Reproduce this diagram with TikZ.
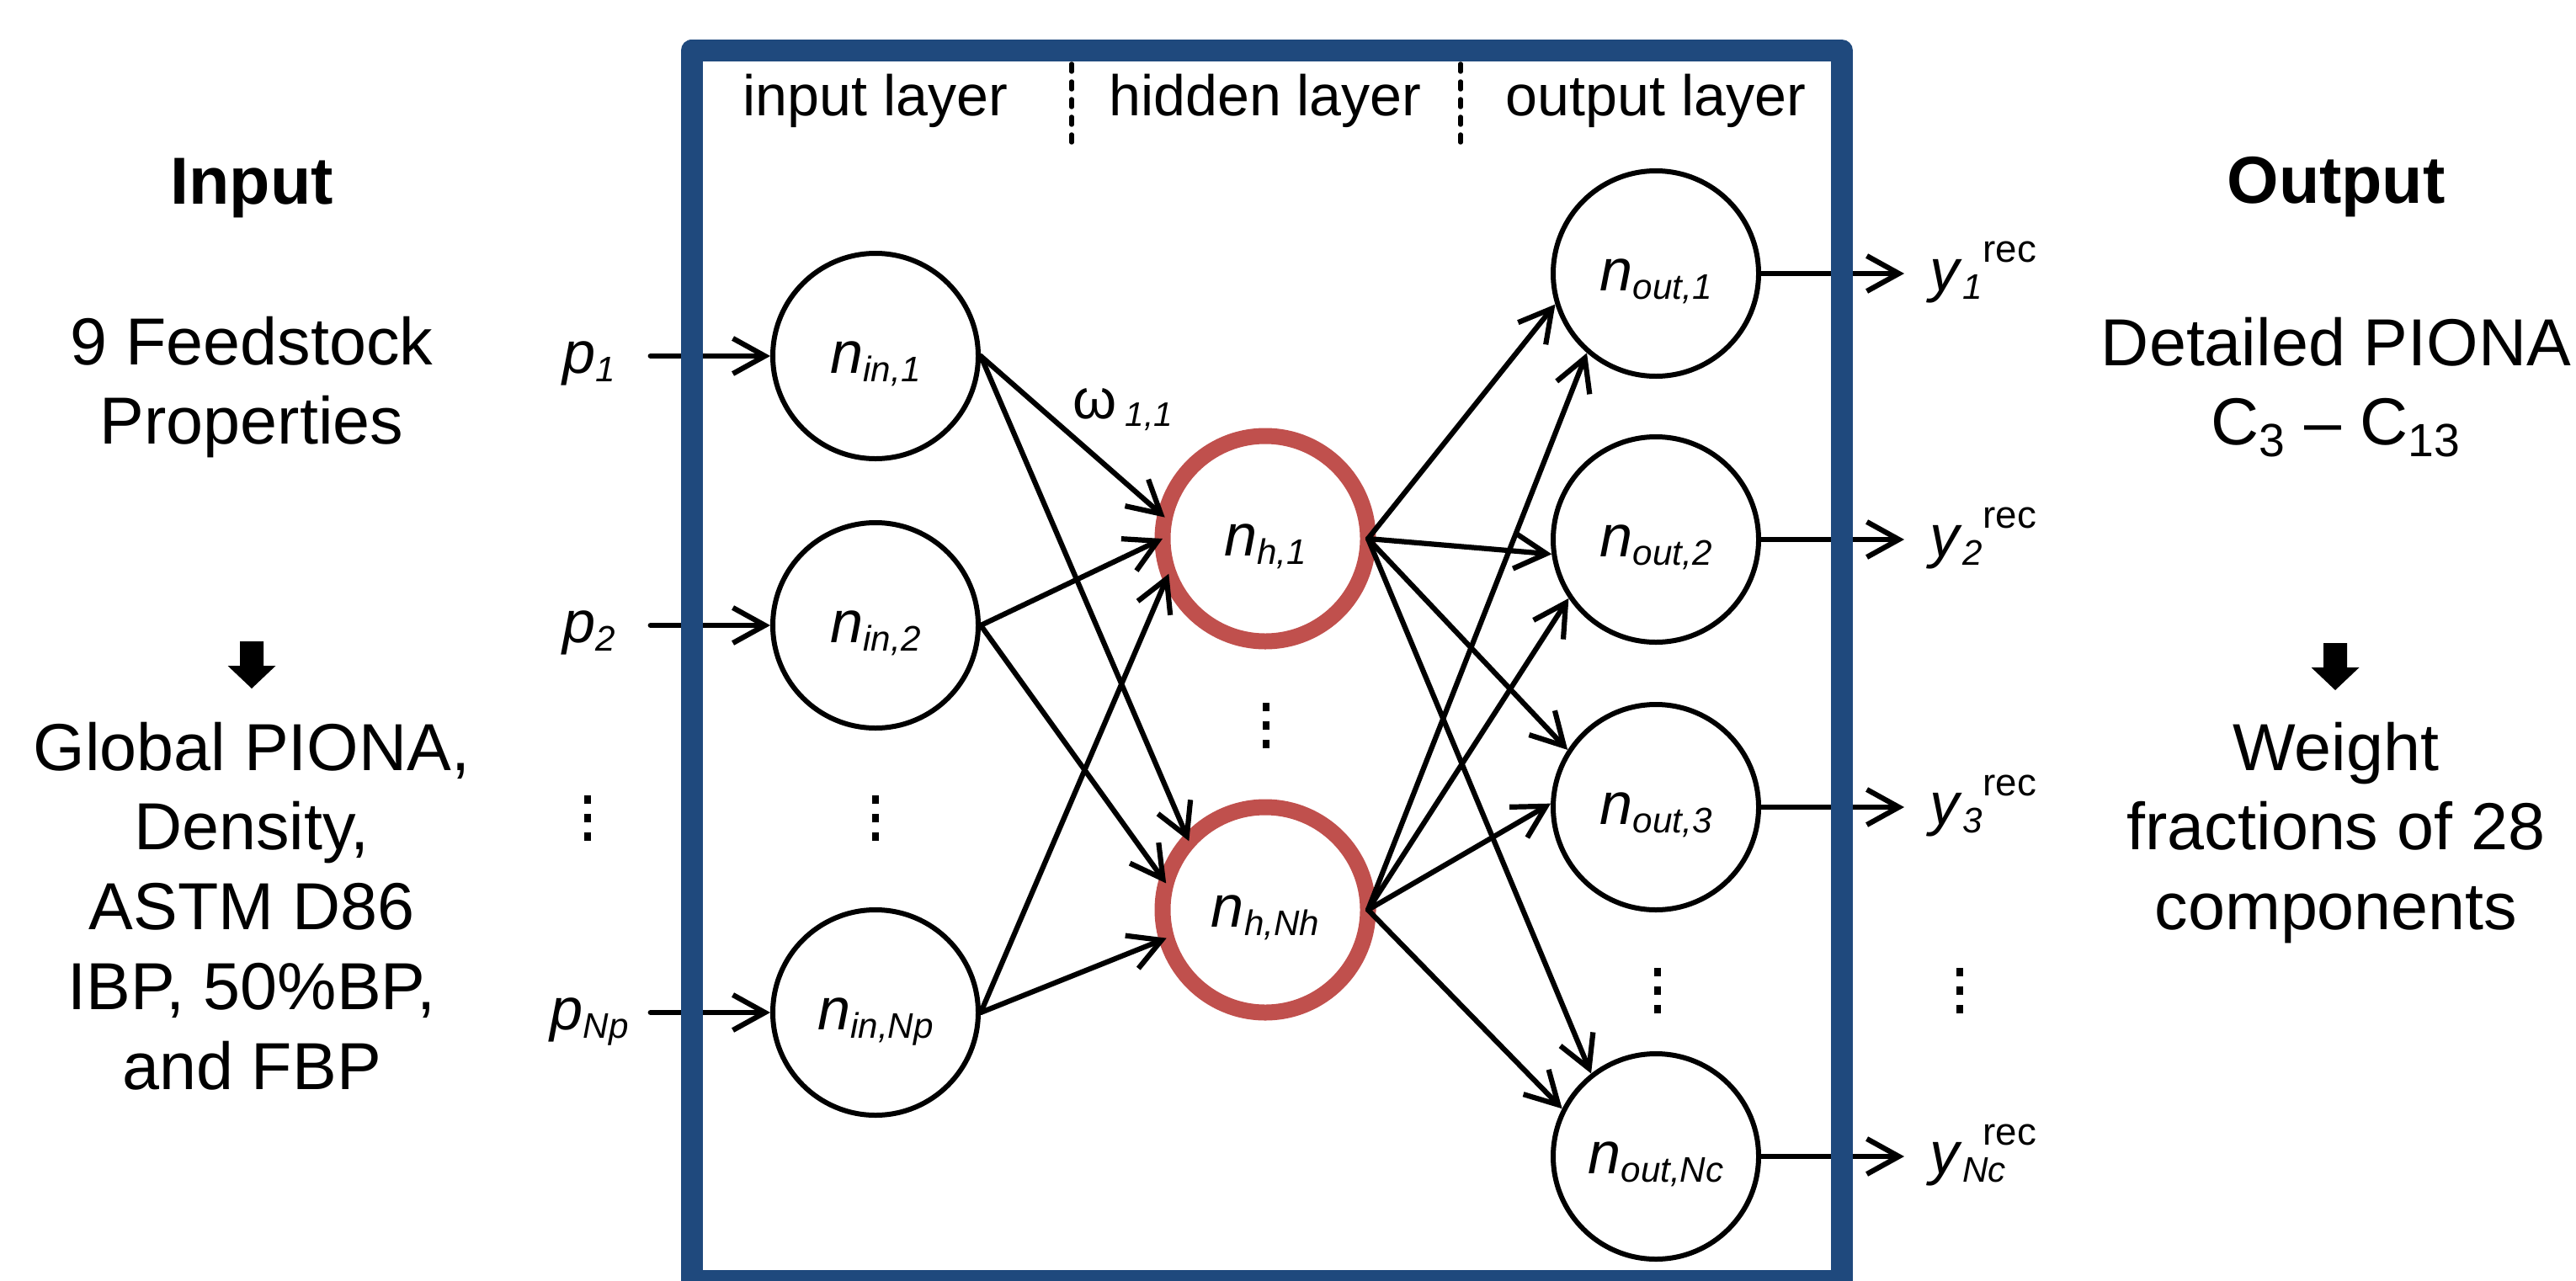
\documentclass[tikz,border=0pt]{standalone}
\usepackage{fontspec}
\setmainfont{Liberation Sans}
\usetikzlibrary{arrows.meta}

\definecolor{boxblue}{RGB}{31,73,125}
\definecolor{ringred}{RGB}{192,80,77}

\newcommand{\nsub}[2]{\textit{#1}\raisebox{-0.1cm}{\fontsize{12}{12}\selectfont\itshape #2}}
\newcommand{\yrec}[1]{\textit{y}\rlap{\raisebox{-0.1cm}{\fontsize{12}{12}\selectfont\itshape #1}}\hspace{0.24cm}\raisebox{0.34cm}{\fontsize{13}{13}\selectfont rec}}
\newcommand{\sqdots}{\vbox{\offinterlineskip\hbox{\rule{0.08cm}{0.1cm}}\kern0.12cm\hbox{\rule{0.08cm}{0.1cm}}\kern0.12cm\hbox{\rule{0.08cm}{0.1cm}}}}

\begin{document}
\begin{tikzpicture}[x=1cm,y=-1cm,
    neuron/.style={draw,circle,line width=0.06cm,minimum size=2.44cm,inner sep=0pt,
      text height=0.4cm,text depth=0cm,font=\fontsize{20}{24}\selectfont},
    hneuron/.style={neuron,draw=ringred,line width=0.19cm,outer sep=0pt},
    plab/.style={minimum width=1.44cm,inner sep=0pt,text height=0.4cm,text depth=0cm,
      font=\fontsize{20}{24}\selectfont},
    ylab/.style={anchor=west,inner xsep=0.3cm,inner ysep=0pt,text height=0.4cm,text depth=0cm,
      font=\fontsize{20}{24}\selectfont},
    hdr/.style={anchor=base,inner sep=0pt,font=\fontsize{19.4}{23}\selectfont},
    bigtxt/.style={inner sep=0pt,align=center,font=\fontsize{22.5}{27}\selectfont},
    dotsq/.style={inner sep=0pt},
    conn/.style={line width=0.062cm,line cap=round,-{Straight Barb[length=0.38cm,width=0.42cm]}},
    sepline/.style={line width=0.055cm,line cap=round,dash pattern=on 0.09cm off 0.12cm}]

  \useasboundingbox (0,0) rectangle (30.60,15.21);

  % Specification of nodes (position, etc.)
  \node[neuron] (in1) at (10.40,4.23) {\nsub{n}{in,1}};
  \node[neuron] (in2) at (10.40,7.43) {\nsub{n}{in,2}};
  \node[dotsq] (dIn) at (10.40,9.72) {\sqdots};
  \node[neuron] (inN) at (10.40,12.03) {\nsub{n}{in,Np}};

  \node[hneuron] (h1) at (15.03,6.40) {\nsub{n}{h,1}};
  \node[dotsq] (dH) at (15.04,8.62) {\sqdots};
  \node[hneuron] (hN) at (15.03,10.81) {\nsub{n}{h,Nh}};

  \node[neuron] (out1) at (19.67,3.25) {\nsub{n}{out,1}};
  \node[neuron] (out2) at (19.67,6.41) {\nsub{n}{out,2}};
  \node[neuron] (out3) at (19.67,9.59) {\nsub{n}{out,3}};
  \node[dotsq] (dOut) at (19.69,11.77) {\sqdots};
  \node[neuron] (outN) at (19.67,13.74) {\nsub{n}{out,Nc}};

  \node[plab] (p1) at (7.00,4.23) {\nsub{p}{1}};
  \node[plab] (p2) at (7.00,7.43) {\nsub{p}{2}};
  \node[dotsq] (dP) at (6.98,9.72) {\sqdots};
  \node[plab] (pN) at (7.00,12.03) {\nsub{p}{Np}};

  \node[ylab] (y1) at (22.62,3.25) {\yrec{1}};
  \node[ylab] (y2) at (22.62,6.41) {\yrec{2}};
  \node[ylab] (y3) at (22.62,9.59) {\yrec{3}};
  \node[dotsq] (dY) at (23.28,11.77) {\sqdots};
  \node[ylab] (yN) at (22.62,13.74) {\yrec{Nc}};

  \node[anchor=base west,inner sep=0pt,font=\fontsize{19}{21}\selectfont] (w11) at (12.74,4.97)
    {ω\hspace{0.1cm}\raisebox{-0.09cm}{\fontsize{11.5}{11.5}\selectfont\itshape 1,1}};

  % layer headings
  \node[hdr] (hIn) at (10.40,1.37) {input layer};
  \node[hdr] (hHid) at (15.03,1.37) {hidden layer};
  \node[hdr] (hOut) at (19.67,1.37) {output layer};
  \draw[sepline] (12.73,0.76) -- (12.73,1.77);
  \draw[sepline] (17.35,0.76) -- (17.35,1.77);

  % side texts
  \node[bigtxt,anchor=base,font=\bfseries\fontsize{22.5}{27}\selectfont] (tIn) at (2.99,2.42) {Input};
  \node[bigtxt,anchor=north] (tFeed) at (2.99,3.75) {9 Feedstock\\Properties};
  \fill (2.85,7.62) -- (3.13,7.62) -- (3.13,7.91) -- (3.275,7.91) -- (2.99,8.18)
    -- (2.705,7.91) -- (2.85,7.91) -- cycle;
  \node[bigtxt,anchor=north] (tProp) at (2.99,8.57)
    {Global PIONA,\\Density,\\ASTM D86\\IBP, 50\%BP,\\and FBP};

  \node[bigtxt,anchor=base,font=\bfseries\fontsize{22.5}{27}\selectfont] (tOut) at (27.75,2.41) {Output};
  \node[bigtxt,anchor=north] (tPiona) at (27.75,3.76) {Detailed PIONA\\C\textsubscript{3} – C\textsubscript{13}};
  \fill (27.60,7.64) -- (27.88,7.64) -- (27.88,7.93) -- (28.025,7.93) -- (27.74,8.20)
    -- (27.455,7.93) -- (27.60,7.93) -- cycle;
  \node[bigtxt,anchor=north] (tWt) at (27.75,8.57) {Weight\\fractions of 28\\components};

  \begin{scope}[conn]
    \draw (p1) -- (in1);
    \draw (p2) -- (in2);
    \draw (pN) -- (inN);

    \draw (in1.east) -- (h1.168);
    \draw (in1.east) -- (hN.138);
    \draw (in2.east) -- (h1.180);
    \draw (in2.east) -- (hN.165);
    \draw (inN.east) -- (h1.200);
    \draw (inN.east) -- (hN.196);

    \draw (h1.east) -- (out1.197);
    \draw (h1.east) -- (out2.188);
    \draw (h1.east) -- (out3.147);
    \draw (h1.east) -- (outN.128);
    \draw (hN.east) -- (out1.229);
    \draw (hN.east) -- (out2.214);
    \draw (hN.east) -- (out3.178);
    \draw (hN.east) -- (outN.153);

    \draw (out1) -- (y1.west);
    \draw (out2) -- (y2.west);
    \draw (out3) -- (y3.west);
    \draw (outN) -- (yN.west);
  \end{scope}

  % network frame
  \draw[draw=boxblue,line width=0.26cm,line join=round] (8.215,0.60) rectangle (21.88,15.22);

\end{tikzpicture}
\end{document}
